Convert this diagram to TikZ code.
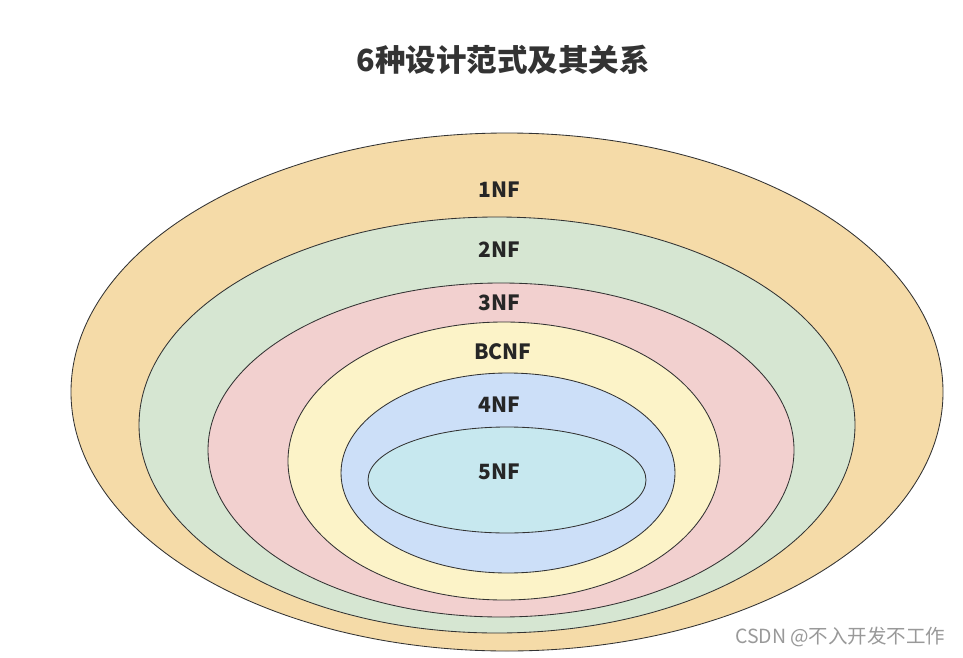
\documentclass[tikz,border=0pt]{standalone}
\usepackage{fontspec}
\setmainfont{Noto Sans CJK SC}
\usetikzlibrary{positioning}

\definecolor{nfOrange}{HTML}{F5DBA8}
\definecolor{nfGreen}{HTML}{D6E6D2}
\definecolor{nfPink}{HTML}{F2D0CF}
\definecolor{nfYellow}{HTML}{FCF3C8}
\definecolor{nfBlue}{HTML}{CCDFF8}
\definecolor{nfCyan}{HTML}{C7E8EF}

\begin{document}
\begin{tikzpicture}[x=1pt, y=-1pt, ring/.style={draw=black!80,line width=0.85pt}, lbl/.style={font=\fontsize{21}{24}\selectfont\bfseries,text=black!85}]
\useasboundingbox (0,0) rectangle (963,658);
\fill[white] (0,0) rectangle (963,658);
\node[font=\fontsize{30.5}{36}\selectfont\bfseries, text=black!80] (title) at (503,60) {6种设计范式及其关系};
% nested forms, outermost first
\draw[ring, fill=nfOrange] (507,392) ellipse [x radius=436pt, y radius=259pt];
\draw[ring, fill=nfGreen] (497,425) ellipse [x radius=358pt, y radius=208pt];
\draw[ring, fill=nfPink] (501,450) ellipse [x radius=293pt, y radius=167pt];
\draw[ring, fill=nfYellow] (504,461) ellipse [x radius=216pt, y radius=139pt];
\draw[ring, fill=nfBlue] (508,473) ellipse [x radius=167pt, y radius=100pt];
\draw[ring, fill=nfCyan] (507,480) ellipse [x radius=139pt, y radius=53pt];
\node[lbl] (nf1) at (499,190) {1NF};
\node[lbl] (nf2) at (499,250) {2NF};
\node[lbl] (nf3) at (499,303) {3NF};
\node[lbl] (bcnf) at (503,352) {BCNF};
\node[lbl] (nf4) at (499,405) {4NF};
\node[lbl] (nf5) at (499,472) {5NF};
\node[font=\fontsize{19.5}{22}\selectfont, text=black!40, anchor=east] (mark) at (949,637) {CSDN @不入开发不工作};
\end{tikzpicture}
\end{document}
